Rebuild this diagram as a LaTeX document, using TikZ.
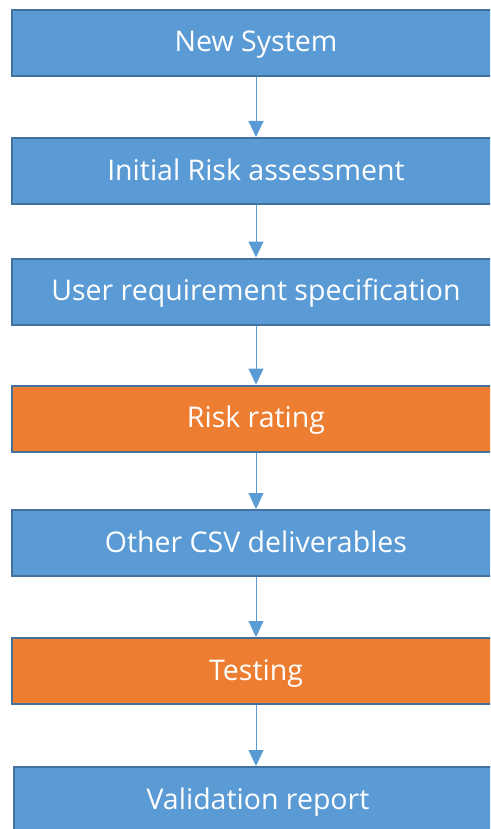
\documentclass[tikz,border=0pt]{standalone}
\usepackage{fontspec}
\setmainfont{Open Sans}
\usepackage{tikz}
\usetikzlibrary{arrows.meta, positioning}

\definecolor{stepblue}{HTML}{5B9BD5}
\definecolor{steporange}{HTML}{ED7D31}
\definecolor{stepedge}{HTML}{41719C}

\begin{document}
\begin{tikzpicture}[x=1pt, y=-1pt,
    stepbox/.style={draw=stepedge, line width=2pt, fill=stepblue, text=white,
        minimum width=488pt, minimum height=66pt, inner sep=0pt,
        text height=21pt, text depth=3pt,
        font=\fontsize{28.5}{32}\selectfont},
    riskbox/.style={stepbox, fill=steporange},
    flow/.style={draw=stepblue, line width=1pt, -{Triangle[length=16pt, width=15pt]}}]
    \useasboundingbox (0,0) rectangle (490,829);
    \clip (0,0) rectangle (490,829);

    % Process steps
    \node[stepbox] (newsys) at (256,43) {New System};
    \node[stepbox] (initrisk) at (256,171) {Initial Risk assessment};
    \node[stepbox] (urs) at (256,291.5) {User requirement specification};
    \node[riskbox] (rating) at (256,418.5) {Risk rating};
    \node[stepbox] (csv) at (256,543) {Other CSV deliverables};
    \node[riskbox] (testing) at (256,671) {Testing};
    \node[stepbox] (report) at (258,800) {Validation report};

    % Connectors
    \draw[flow] (newsys.south) -- (initrisk.north);
    \draw[flow] (initrisk.south) -- (urs.north);
    \draw[flow] (urs.south) -- (rating.north);
    \draw[flow] (rating.south) -- (csv.north);
    \draw[flow] (csv.south) -- (testing.north);
    \draw[flow] (testing.south) -- (report.north -| testing.south);
\end{tikzpicture}
\end{document}
